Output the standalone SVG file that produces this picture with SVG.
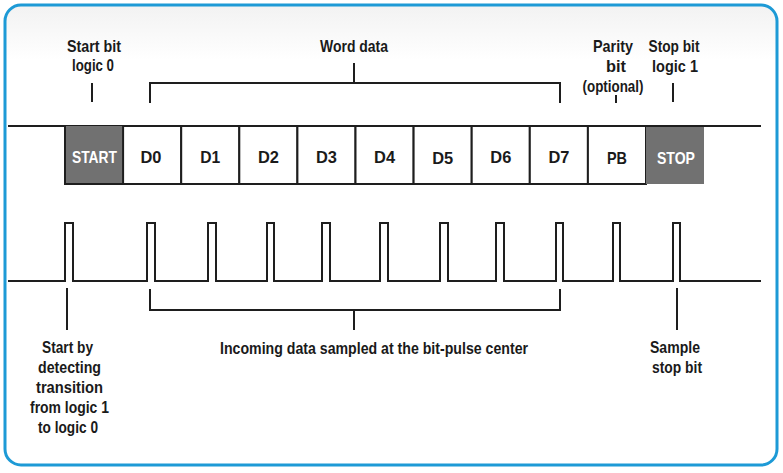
<svg xmlns="http://www.w3.org/2000/svg" width="783" height="473" viewBox="0 0 783 473">
<defs>
<linearGradient id="bg" x1="0" y1="0" x2="0" y2="1">
<stop offset="0" stop-color="#f2f2f2"/>
<stop offset="0.12" stop-color="#ffffff"/>
<stop offset="1" stop-color="#ffffff"/>
</linearGradient>
<style>
.ln{fill:none;stroke:#1e1e1e;stroke-width:2}
.t{font-family:"Liberation Sans",Arial,sans-serif;font-weight:bold;font-size:16.5px;fill:#1a1a1a;text-anchor:middle}
.w{fill:#ffffff}
.cell{fill:#ffffff;stroke:#1e1e1e;stroke-width:2}
.gray{fill:#717171}
</style>
</defs>
<rect x="0" y="0" width="783" height="473" fill="#ffffff"/>
<rect x="5" y="5" width="772" height="460" rx="16" fill="url(#bg)" stroke="#1d9ad6" stroke-width="3"/>

<g id="connectors">
<path class="ln" d="M8 126 H761"/>
<path class="ln" d="M8 281 H65 V223 H73 V281 H147 V223 H155 V281 H208 V223 H216 V281 H267 V223 H274 V281 H322 V223 H330 V281 H380 V223 H388 V281 H440 V223 H448 V281 H496 V223 H504 V281 H556 V223 H563 V281 H613 V223 H620 V281 H673 V223 H680 V281 H761"/>
<path class="ln" d="M92 83 V102"/>
<path class="ln" d="M150 103 V83 H560 V103 M354 83 V63"/>
<path class="ln" d="M616 95 V103"/>
<path class="ln" d="M673 83 V102"/>
<path class="ln" d="M150 289 V310 H560 V289 M354 310 V330"/>
<path class="ln" d="M67 288 V330"/>
<path class="ln" d="M677 288 V330"/>
</g>

<g id="start"><rect class="gray" x="65" y="126" width="58.1" height="58"/><path class="ln" d="M65 126 V184 H123.1"/><text class="t w" x="94.5" y="163" textLength="45" lengthAdjust="spacingAndGlyphs">START</text></g>
<g id="d0"><rect class="cell" x="123.1" y="126" width="58.1" height="58"/><text class="t" x="151" y="163" textLength="21" lengthAdjust="spacingAndGlyphs">D0</text></g>
<g id="d1"><rect class="cell" x="181.2" y="126" width="58.1" height="58"/><text class="t" x="210.3" y="163" textLength="20" lengthAdjust="spacingAndGlyphs">D1</text></g>
<g id="d2"><rect class="cell" x="239.3" y="126" width="58.1" height="58"/><text class="t" x="268.4" y="163" textLength="21" lengthAdjust="spacingAndGlyphs">D2</text></g>
<g id="d3"><rect class="cell" x="297.4" y="126" width="58.1" height="58"/><text class="t" x="326.5" y="163" textLength="21" lengthAdjust="spacingAndGlyphs">D3</text></g>
<g id="d4"><rect class="cell" x="355.5" y="126" width="58.1" height="58"/><text class="t" x="384.6" y="163" textLength="21" lengthAdjust="spacingAndGlyphs">D4</text></g>
<g id="d5"><rect class="cell" x="413.6" y="126" width="58.1" height="58"/><text class="t" x="442.7" y="164" textLength="21" lengthAdjust="spacingAndGlyphs">D5</text></g>
<g id="d6"><rect class="cell" x="471.7" y="126" width="58.1" height="58"/><text class="t" x="500.8" y="163" textLength="21" lengthAdjust="spacingAndGlyphs">D6</text></g>
<g id="d7"><rect class="cell" x="529.8" y="126" width="58.1" height="58"/><text class="t" x="558.9" y="163" textLength="21" lengthAdjust="spacingAndGlyphs">D7</text></g>
<g id="pb"><rect class="cell" x="587.9" y="126" width="58.1" height="58"/><text class="t" x="617" y="164" textLength="20" lengthAdjust="spacingAndGlyphs">PB</text></g>
<g id="stop"><rect class="gray" x="646" y="127" width="58" height="57"/><text class="t w" x="676" y="164" textLength="38" lengthAdjust="spacingAndGlyphs">STOP</text></g>

<g id="label-start-bit"><text class="t" x="94" y="52" textLength="54" lengthAdjust="spacingAndGlyphs">Start bit</text><text class="t" x="93" y="71" textLength="42" lengthAdjust="spacingAndGlyphs">logic 0</text></g>
<g id="label-word-data"><text class="t" x="354" y="52" textLength="68" lengthAdjust="spacingAndGlyphs">Word data</text></g>
<g id="label-parity"><text class="t" x="613" y="52" textLength="40" lengthAdjust="spacingAndGlyphs">Parity</text><text class="t" x="616" y="72" textLength="20" lengthAdjust="spacingAndGlyphs">bit</text><text class="t" x="613" y="92" textLength="61" lengthAdjust="spacingAndGlyphs">(optional)</text></g>
<g id="label-stop-bit"><text class="t" x="674" y="52" textLength="51" lengthAdjust="spacingAndGlyphs">Stop bit</text><text class="t" x="675" y="72" textLength="46" lengthAdjust="spacingAndGlyphs">logic 1</text></g>
<g id="label-incoming"><text class="t" x="374" y="354" textLength="308" lengthAdjust="spacingAndGlyphs">Incoming data sampled at the bit-pulse center</text></g>
<g id="label-start-by"><text class="t" x="67.5" y="353" textLength="51" lengthAdjust="spacingAndGlyphs">Start by</text><text class="t" x="69.5" y="373" textLength="63" lengthAdjust="spacingAndGlyphs">detecting</text><text class="t" x="69.5" y="393" textLength="67" lengthAdjust="spacingAndGlyphs">transition</text><text class="t" x="69.5" y="413" textLength="79" lengthAdjust="spacingAndGlyphs">from logic 1</text><text class="t" x="68" y="433" textLength="60" lengthAdjust="spacingAndGlyphs">to logic 0</text></g>
<g id="label-sample-stop"><text class="t" x="675" y="353" textLength="50" lengthAdjust="spacingAndGlyphs">Sample</text><text class="t" x="677" y="373" textLength="50" lengthAdjust="spacingAndGlyphs">stop bit</text></g>
</svg>
